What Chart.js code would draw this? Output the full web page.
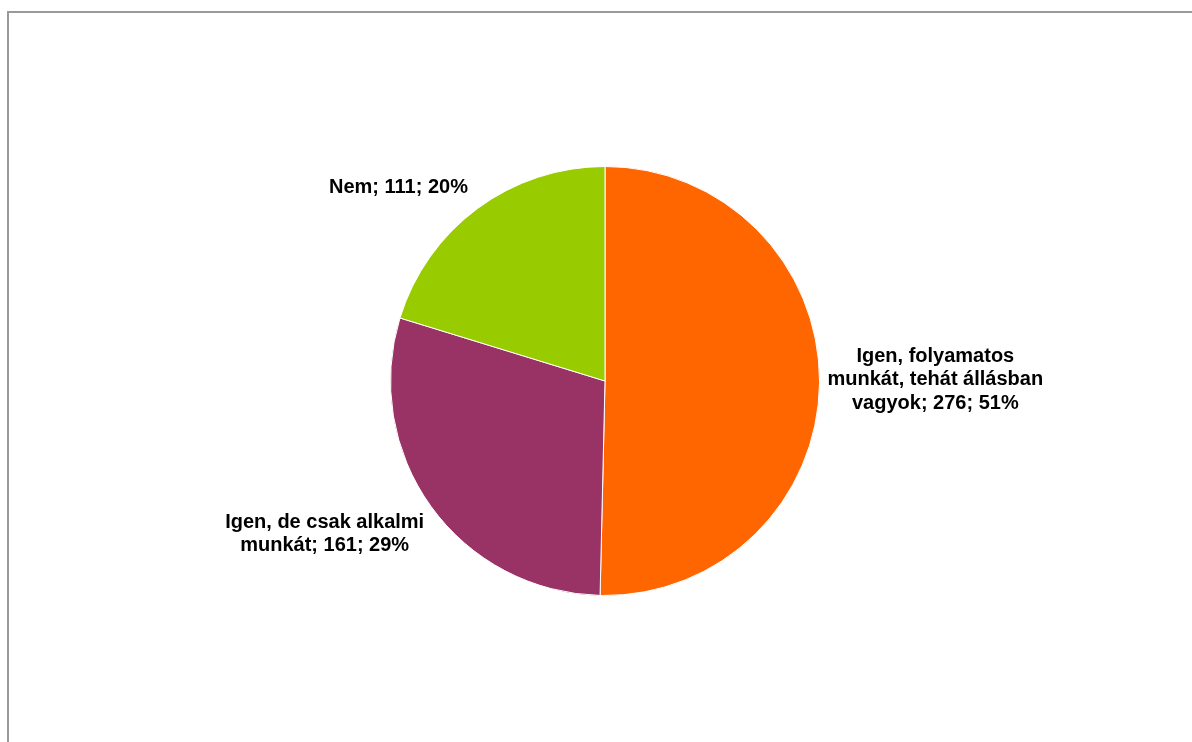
<!DOCTYPE html>
<html>
<head>
<meta charset="utf-8">
<script src="https://cdn.jsdelivr.net/npm/chart.js@4"></script>
<style>
  html, body { margin: 0; padding: 0; background: #fff; }
  .wrap { position: relative; width: 1192px; height: 742px; overflow: hidden; }
  .frame { position: absolute; left: 7px; top: 11px; width: 1200px; height: 760px;
           border-top: 2px solid #9a9a9a; border-left: 2px solid #9a9a9a; }
  canvas { position: absolute; left: 0; top: 0; }
</style>
</head>
<body>
<div class="wrap">
  <div class="frame"></div>
  <canvas id="pie" width="1192" height="742"></canvas>
</div>
<script>
// data
const categories = ['Igen, folyamatos munkát, tehát állásban vagyok', 'Igen, de csak alkalmi munkát', 'Nem'];
const counts = [276, 161, 111];
const labelLines = [
    ['Igen, folyamatos', 'munkát, tehát állásban', 'vagyok; 276; 51%'],
    ['Igen, de csak alkalmi', 'munkát; 161; 29%'],
    ['Nem; 111; 20%']
];
const colors = ['#FF6600', '#993366', '#99CC00'];

// label offsets from pie centre, in radius units
const labelOffsets = [[1.54, -0.005], [-1.307, 0.714], [-0.963, -0.902]];

const pieLabels = {
    id: 'pieLabels',
    afterDatasetsDraw(chart) {
        const ctx = chart.ctx;
        const arc = chart.getDatasetMeta(0).data[0];
        const cx = arc.x, cy = arc.y, r = arc.outerRadius;
        ctx.save();
        ctx.font = 'bold 20px "Liberation Sans", Arial, sans-serif';
        ctx.fillStyle = '#000';
        ctx.textAlign = 'center';
        ctx.textBaseline = 'middle';
        const lh = 23.5;
        labelLines.forEach((lines, i) => {
            const x = cx + labelOffsets[i][0] * r;
            const y = cy + labelOffsets[i][1] * r;
            const top = y - (lines.length - 1) * lh / 2;
            lines.forEach((t, j) => ctx.fillText(t, x, top + j * lh));
        });
        ctx.restore();
    }
};

let pieChart = new Chart(document.querySelector('#pie').getContext('2d'), {
    type: 'pie',
    data: {
        labels: categories,
        datasets: [{
            data: counts,
            backgroundColor: colors,
            borderColor: '#ffffff',
            borderWidth: 1
        }]
    },
    options: {
        responsive: false,
        animation: false,
        events: [],
        layout: { padding: { top: 166, bottom: 146, left: 390, right: 372 } },
        plugins: {
            legend: { display: false },
            tooltip: { enabled: false }
        }
    },
    plugins: [pieLabels]
});
</script>
</body>
</html>
